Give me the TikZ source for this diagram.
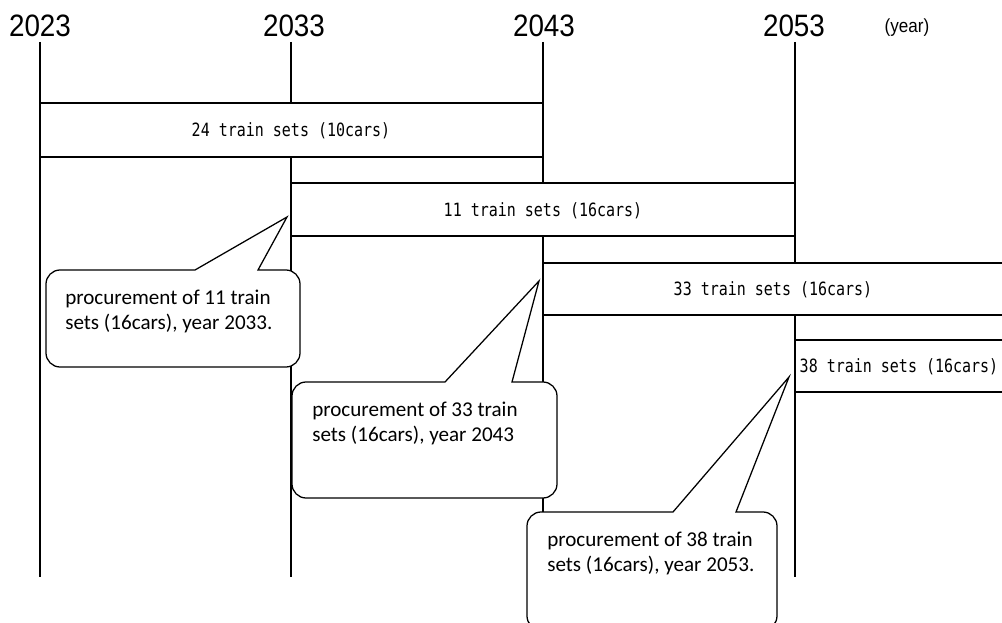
\documentclass[tikz,border=0pt]{standalone}
\usepackage{fontspec}
\setmainfont{Carlito}
\newfontfamily\yearfont[FakeStretch=0.9]{Liberation Sans}
\newfontfamily\barfont[FakeStretch=0.82]{DejaVu Sans Mono}

\tikzset{
  yearline/.style={line width=1.4pt},
  barbox/.style={draw, fill=white, line width=1.4pt},
  bartext/.style={font=\barfont\fontsize{13}{14}\selectfont},
  yeartext/.style={font=\yearfont\fontsize{22}{24}\selectfont},
  unittext/.style={font=\yearfont\fontsize{13.5}{15}\selectfont},
  balloon/.style={draw, fill=white, line width=0.9pt},
  balloontext/.style={anchor=north west, align=left, inner sep=0pt,
    font=\fontsize{15}{17.8}\selectfont}
}

\begin{document}
\begin{tikzpicture}[x=0.025cm, y=-0.025cm]
\useasboundingbox (0,0) rectangle (1002,623);
\begin{scope}
\clip (0,0) rectangle (1002,623);
% years
\node[yeartext] (y2023) at (40,26) {2023};
\node[yeartext] (y2033) at (294,26) {2033};
\node[yeartext] (y2043) at (544,26) {2043};
\node[yeartext] (y2053) at (794,26) {2053};
\node[unittext] (unit) at (907,28) {(year)};
\draw[yearline] (40,42) -- (40,577);
\draw[yearline] (291,42) -- (291,577);
\draw[yearline] (543,42) -- (543,577);
\draw[yearline] (795,42) -- (795,577);
% train sets
\draw[barbox] (40,103) rectangle (543,157);
\node[bartext] (sets24) at (291,131) {24 train sets (10cars)};
\draw[barbox] (291,183) rectangle (795,236);
\node[bartext] (sets11) at (543,211) {11 train sets (16cars)};
\draw[barbox] (543,263) rectangle (1010,315);
\node[bartext] (sets33) at (773,290) {33 train sets (16cars)};
\draw[barbox] (795,340) rectangle (1010,392);
\node[bartext] (sets38) at (899,367) {38 train sets (16cars)};
% procurement
\draw[balloon] (258,270) [rounded corners=10pt] -- (300,270) -- (300,367)
  -- (46,367) -- (46,270) [sharp corners] -- (195,270) -- (287,217) -- cycle;
\node[balloontext] (proc11) at (65,290) {procurement of 11 train\\sets (16cars), year 2033.};
\draw[balloon] (512,382) [rounded corners=10pt] -- (557,382) -- (557,498)
  -- (292,498) -- (292,382) [sharp corners] -- (445,382) -- (539,281) -- cycle;
\node[balloontext] (proc33) at (312,402) {procurement of 33 train\\sets (16cars), year 2043};
\draw[balloon] (736,512) [rounded corners=10pt] -- (777,512) -- (777,630)
  -- (527,630) -- (527,512) [sharp corners] -- (673,512) -- (789,377) -- cycle;
\node[balloontext] (proc38) at (547,532) {procurement of 38 train\\sets (16cars), year 2053.};
\end{scope}
\end{tikzpicture}
\end{document}
